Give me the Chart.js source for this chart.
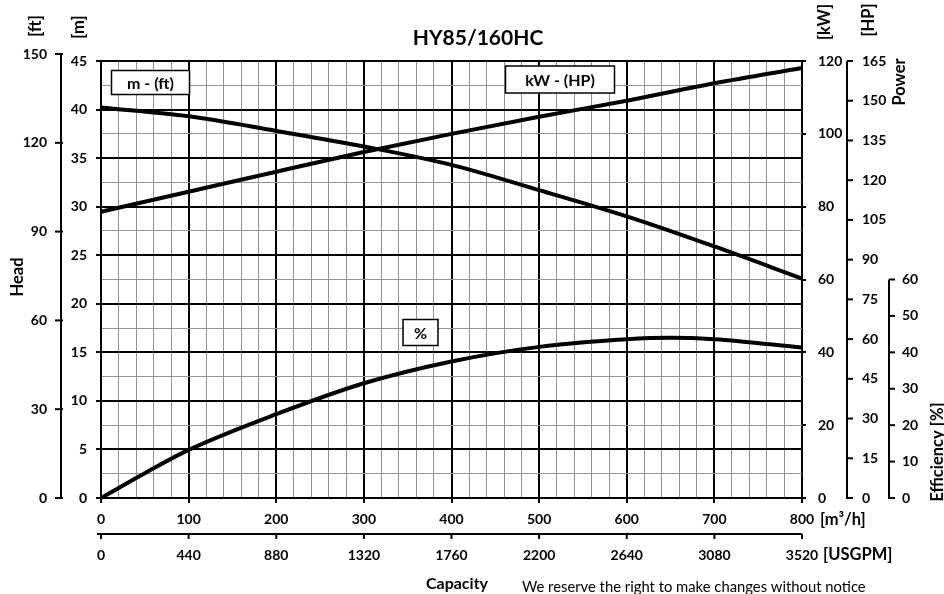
<!DOCTYPE html>
<html>
<head>
<meta charset="utf-8">
<title>HY85/160HC</title>
<script src="https://cdn.jsdelivr.net/npm/chart.js@4.4.1/dist/chart.umd.min.js"></script>
<style>
  html, body { margin: 0; padding: 0; background: #fff; }
  #wrap { width: 944px; height: 594px; position: relative; }
</style>
</head>
<body>
<div id="wrap"><canvas id="pump-chart"></canvas></div>
<script>
// Pump curve data
var flowM3h = [0, 100, 200, 300, 400, 500, 600, 700, 800];
var headM = [40.2, 39.3, 37.8, 36.2, 34.3, 31.7, 29.0, 25.9, 22.6];
var powerKW = [78.6, 84.1, 89.6, 95.0, 100.0, 104.7, 109.1, 113.9, 118.1];
var effFlow = [0, 50, 100, 200, 300, 400, 500, 600, 650, 700, 800];
var effPct = [0, 6.8, 13.2, 23.0, 31.5, 37.5, 41.5, 43.6, 44.0, 43.6, 41.3];

// secondary axis tick labels
var ftTicks = [0, 30, 60, 90, 120, 150];
var hpTicks = [0, 15, 30, 45, 60, 75, 90, 105, 120, 135, 150, 165];
var effTicks = [0, 10, 20, 30, 40, 50, 60];
var usgpmTicks = [0, 440, 880, 1320, 1760, 2200, 2640, 3080, 3520];

var FONT = 'Lato, "Open Sans", sans-serif';
var MINOR = '#939393';
var TICK_SIZE = 14;

function pts(xs, ys) {
    return xs.map(function (x, i) { return { x: x, y: ys[i] }; });
}

function curve(data, axis) {
    return {
        data: data,
        yAxisID: axis,
        borderColor: '#000',
        borderWidth: 4,
        pointRadius: 0,
        fill: false,
        cubicInterpolationMode: 'monotone',
        clip: false
    };
}

function isMajor(v, step) {
    return Math.abs(v / step - Math.round(v / step)) < 1e-6;
}

function vText(ctx, txt, x, y, font) {
    ctx.save();
    ctx.translate(x, y);
    ctx.rotate(-Math.PI / 2);
    ctx.font = font;
    ctx.textAlign = 'center';
    ctx.textBaseline = 'middle';
    ctx.fillText(txt, 0, 0);
    ctx.restore();
}

function line(ctx, x1, y1, x2, y2) {
    ctx.beginPath();
    ctx.moveTo(x1, y1);
    ctx.lineTo(x2, y2);
    ctx.stroke();
}

function labelBox(ctx, txt, x, y, w, h) {
    ctx.fillStyle = '#fff';
    ctx.fillRect(x, y, w, h);
    ctx.lineWidth = 1.5;
    ctx.strokeRect(x, y, w, h);
    ctx.fillStyle = '#000';
    ctx.font = 'bold 16px ' + FONT;
    ctx.textAlign = 'center';
    ctx.textBaseline = 'middle';
    ctx.fillText(txt, x + w / 2, y + h / 2 + 1);
}

var extras = {
    id: 'pumpExtras',
    afterDraw: function (chart) {
        var ctx = chart.ctx;
        var a = chart.chartArea;
        var s = chart.scales;
        var tickFont = 'bold ' + TICK_SIZE + 'px ' + FONT;
        ctx.save();
        ctx.strokeStyle = '#000';
        ctx.fillStyle = '#000';
        ctx.lineWidth = 2;

        // title
        ctx.font = 'bold 21px ' + FONT;
        ctx.textAlign = 'center';
        ctx.textBaseline = 'middle';
        ctx.fillText('HY85/160HC', 478, 38);

        // ft axis (left)
        var ftX = 61;
        line(ctx, ftX, s.ft.getPixelForValue(150) - 1, ftX, a.bottom + 1);
        ctx.font = tickFont;
        ctx.textAlign = 'right';
        ftTicks.forEach(function (v) {
            var y = s.ft.getPixelForValue(v);
            line(ctx, ftX - 6, y, ftX + 2, y);
            ctx.fillText(String(v), ftX - 14, y);
        });

        // HP axis
        var hpX = 847;
        line(ctx, hpX, s.hp.getPixelForValue(165), hpX, a.bottom + 1);
        ctx.textAlign = 'left';
        hpTicks.forEach(function (v) {
            var y = s.hp.getPixelForValue(v);
            line(ctx, hpX, y, hpX + 6, y);
            ctx.fillText(String(v), hpX + 15, y);
        });

        // efficiency axis
        var effX = 889;
        line(ctx, effX, s.eff.getPixelForValue(60), effX, a.bottom + 1);
        effTicks.forEach(function (v) {
            var y = s.eff.getPixelForValue(v);
            line(ctx, effX, y, effX + 6, y);
            ctx.fillText(String(v), effX + 13, y);
        });

        // USGPM axis (second bottom axis)
        var usY = 534;
        line(ctx, s.usgpm.getPixelForValue(0) - 4, usY, s.usgpm.getPixelForValue(3520), usY);
        ctx.textAlign = 'center';
        usgpmTicks.forEach(function (v) {
            var x = s.usgpm.getPixelForValue(v);
            line(ctx, x, usY, x, usY + 5);
            ctx.fillText(String(v), x, 555);
        });

        // unit labels
        ctx.font = 'bold 16.5px ' + FONT;
        ctx.textAlign = 'left';
        ctx.fillText('[m\u00b3/h]', 820, 520);
        ctx.fillText('[USGPM]', 823, 555);

        ctx.font = 'bold 16px ' + FONT;
        ctx.textAlign = 'center';
        ctx.fillText('Capacity', 457, 584);

        ctx.font = '14.8px ' + FONT;
        ctx.textAlign = 'left';
        ctx.fillText('We reserve the right to make changes without notice', 522, 587);

        var vf = 'bold 16.5px ' + FONT;
        vText(ctx, '[ft]', 36, 26, vf);
        vText(ctx, '[m]', 79, 27, vf);
        vText(ctx, '[kW]', 825, 22, vf);
        vText(ctx, '[HP]', 869, 20, vf);
        vText(ctx, 'Power', 900, 82, vf);
        vText(ctx, 'Head', 18, 277, vf);
        vText(ctx, 'Efficiency [%]', 938, 452, vf);

        // curve labels
        labelBox(ctx, 'm - (ft)', 111.5, 70.5, 78, 24);
        labelBox(ctx, 'kW - (HP)', 505.5, 66, 109, 27);
        labelBox(ctx, '%', 403, 319.5, 35, 26);

        ctx.restore();
    }
};

var gridWidth = function (step) {
    return function (c) { return c.tick && isMajor(c.tick.value, step) ? 2 : 1; };
};
var gridColor = function (step) {
    return function (c) { return c.tick && isMajor(c.tick.value, step) ? '#000' : MINOR; };
};
var tickColor = function (step) {
    return function (c) { return c.tick && isMajor(c.tick.value, step) ? '#000' : 'rgba(0,0,0,0)'; };
};

document.addEventListener('DOMContentLoaded', function () {
    var ctx = document.getElementById('pump-chart').getContext('2d');
    new Chart(ctx, {
        type: 'line',
        data: {
            datasets: [
                curve(pts(flowM3h, headM), 'y'),
                curve(pts(flowM3h, powerKW), 'kw'),
                curve(pts(effFlow, effPct), 'eff')
            ]
        },
        plugins: [extras],
        options: {
            responsive: true,
            maintainAspectRatio: false,
            animation: false,
            layout: { padding: { top: 61, left: 0, right: 0, bottom: 0 } },
            plugins: {
                legend: { display: false },
                tooltip: { enabled: false }
            },
            scales: {
                x: {
                    type: 'linear',
                    min: 0,
                    max: 800,
                    afterFit: function (sc) { sc.height = 96; },
                    border: { color: '#000', width: 2 },
                    grid: {
                        color: gridColor(100),
                        lineWidth: gridWidth(100),
                        tickColor: tickColor(100),
                        tickLength: 5
                    },
                    ticks: {
                        stepSize: 20,
                        autoSkip: false,
                        maxRotation: 0,
                        padding: 8,
                        color: '#000',
                        font: { family: FONT, size: TICK_SIZE, weight: 'bold' },
                        callback: function (v) { return isMajor(v, 100) ? String(v) : ''; }
                    }
                },
                usgpm: {
                    type: 'linear',
                    axis: 'x',
                    position: 'bottom',
                    display: false,
                    min: 0,
                    max: 3520
                },
                y: {
                    type: 'linear',
                    position: 'left',
                    min: 0,
                    max: 45,
                    afterFit: function (sc) { sc.width = 101; },
                    border: { color: '#000', width: 2 },
                    grid: {
                        color: gridColor(5),
                        lineWidth: gridWidth(5),
                        tickColor: tickColor(5),
                        tickLength: 5
                    },
                    ticks: {
                        stepSize: 2.5,
                        autoSkip: false,
                        padding: 9,
                        color: '#000',
                        font: { family: FONT, size: TICK_SIZE, weight: 'bold' },
                        callback: function (v) { return isMajor(v, 5) ? String(v) : ''; }
                    }
                },
                ft: {
                    type: 'linear',
                    position: 'left',
                    display: false,
                    min: 0,
                    max: 45 * 3.28084
                },
                kw: {
                    type: 'linear',
                    position: 'right',
                    min: 0,
                    max: 120,
                    afterFit: function (sc) { sc.width = 142; },
                    border: { display: false },
                    grid: {
                        drawOnChartArea: false,
                        color: '#000',
                        lineWidth: 2,
                        tickLength: 4
                    },
                    ticks: {
                        stepSize: 20,
                        padding: 12,
                        color: '#000',
                        font: { family: FONT, size: TICK_SIZE, weight: 'bold' }
                    }
                },
                hp: {
                    type: 'linear',
                    position: 'right',
                    display: false,
                    min: 0,
                    max: 165
                },
                eff: {
                    type: 'linear',
                    position: 'right',
                    display: false,
                    min: 0,
                    max: 120
                }
            }
        }
    });
});
</script>
</body>
</html>
